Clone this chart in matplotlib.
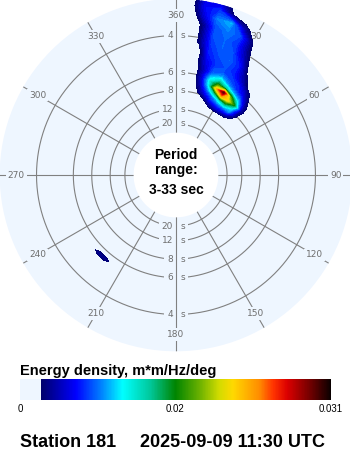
import numpy as np
import matplotlib
matplotlib.use("Agg")
import matplotlib.pyplot as plt
from matplotlib.colors import LinearSegmentedColormap, Normalize
from matplotlib.cm import ScalarMappable

plt.rcParams['font.family'] = ['Liberation Sans', 'DejaVu Sans']

# ============================================================
# DATA
# ============================================================

station = 'Station 181'
stamp = '2025-09-09 11:30 UTC'

period_min = 3
period_max = 33

e_max = 0.031
e_min_shown = 0.0021

cbar_ticks = [0, 0.0155, 0.031]
cbar_labels = ['0', '0.02', '0.031']

ring_periods = [4, 6, 8, 12, 20]

spoke_dirs = [0, 30, 60, 90, 120, 150, 180, 210, 240, 270, 300, 330]
spoke_labels = ['360', '30', '60', '90', '120', '150',
                '180', '210', '240', '270', '300', '330']

# main swell / sea system (direction in deg, frequency in Hz)
theta_main = [0, 5, 10, 15, 20, 25, 30, 35, 40, 45, 50, 55]
freq_main = [0.09, 0.10, 0.11, 0.12, 0.13, 0.14, 0.15, 0.16, 0.17, 0.18,
             0.19, 0.20, 0.22, 0.24, 0.26, 0.28, 0.30, 0.32, 0.34]
energy_main = [
    [0, 0, 0, 0, 0, 0, 0, 0, 0, 0, 0, 0],
    [0, 0, 0, 0, 0, 0.0008, 0.0012, 0.0012, 0.0008, 0, 0, 0],
    [0, 0, 0, 0, 0.0008, 0.0032, 0.0045, 0.0045, 0.0035, 0.0012, 0, 0],
    [0, 0, 0, 0.0008, 0.0028, 0.0060, 0.0075, 0.0080, 0.0080, 0.0025, 0, 0],
    [0, 0, 0, 0.0025, 0.0055, 0.0080, 0.0115, 0.0140, 0.0100, 0.0030, 0, 0],
    [0, 0, 0, 0.0032, 0.0075, 0.0135, 0.0230, 0.0210, 0.0150, 0.0040, 0, 0],
    [0, 0, 0.0005, 0.0040, 0.0100, 0.0220, 0.0295, 0.0170, 0.0100, 0.0035, 0, 0],
    [0, 0, 0.0008, 0.0045, 0.0110, 0.0160, 0.0130, 0.0090, 0.0070, 0.0025, 0, 0],
    [0, 0, 0.0008, 0.0045, 0.0095, 0.0115, 0.0085, 0.0065, 0.0050, 0.0015, 0, 0],
    [0, 0, 0.0008, 0.0040, 0.0075, 0.0085, 0.0070, 0.0060, 0.0035, 0.0008, 0, 0],
    [0, 0, 0.0010, 0.0045, 0.0070, 0.0070, 0.0065, 0.0045, 0.0015, 0, 0, 0],
    [0, 0, 0.0012, 0.0050, 0.0065, 0.0070, 0.0060, 0.0035, 0.0008, 0, 0, 0],
    [0, 0, 0.0008, 0.0060, 0.0070, 0.0075, 0.0060, 0.0015, 0, 0, 0, 0],
    [0, 0, 0.0025, 0.0065, 0.0075, 0.0070, 0.0040, 0.0005, 0, 0, 0, 0],
    [0, 0, 0.0025, 0.0070, 0.0075, 0.0065, 0.0028, 0, 0, 0, 0, 0],
    [0, 0, 0.0025, 0.0070, 0.0080, 0.0070, 0.0022, 0, 0, 0, 0, 0],
    [0, 0, 0.0045, 0.0080, 0.0090, 0.0035, 0.0005, 0, 0, 0, 0, 0],
    [0, 0.0008, 0.0055, 0.0065, 0.0018, 0.0005, 0, 0, 0, 0, 0, 0],
    [0, 0.0005, 0.0050, 0.0040, 0.0010, 0, 0, 0, 0, 0, 0, 0],
]

# small south-west patch
theta_sw = [210, 215, 220, 225, 230, 235]
freq_sw = [0.170, 0.183, 0.196]
energy_sw = [
    [0, 0, 0, 0, 0, 0],
    [0, 0.0008, 0.0030, 0.0030, 0.0008, 0],
    [0, 0, 0, 0, 0, 0],
]

# ============================================================
# STYLE
# ============================================================

DISK = '#eef6ff'
GRID = '#808080'
LABEL = '#6e6e6e'

cmap = LinearSegmentedColormap.from_list('wave', [
    (0.000, DISK),
    (0.0679, DISK),
    (0.068, (0.0, 0.0, 0.42)),
    (0.18, (0.0, 0.0, 1.0)),
    (0.26, (0.0, 0.5, 1.0)),
    (0.33, (0.0, 1.0, 1.0)),
    (0.42, (0.0, 0.78, 0.6)),
    (0.50, (0.0, 0.52, 0.0)),
    (0.58, (0.43, 0.7, 0.0)),
    (0.64, (0.82, 0.86, 0.0)),
    (0.685, (1.0, 0.85, 0.0)),
    (0.77, (1.0, 0.55, 0.0)),
    (0.815, (1.0, 0.2, 0.0)),
    (0.86, (0.86, 0.0, 0.0)),
    (0.93, (0.47, 0.0, 0.0)),
    (1.000, (0.04, 0.0, 0.0)),
], N=512)
norm = Normalize(0, e_max)

fmin = 1 / period_max
fmax = 1 / period_min

# ============================================================
# FIGURE
# ============================================================

fig = plt.figure(figsize=(3.5, 4.5), dpi=100)

ax = fig.add_axes([-0.0009, 0.2193, 1.0074, 0.7836], projection='polar')
ax.set_theta_zero_location('N')
ax.set_theta_direction(-1)
ax.set_rorigin(-0.0656)
ax.set_rlim(fmin, fmax)
ax.set_facecolor(DISK)
ax.patch.set_edgecolor('none')
ax.grid(False)
ax.set_xticks([])
ax.set_yticks([])
# polar axes re-enables some spines at draw time, so hide them by colour
for name in ['polar', 'start', 'end', 'inner']:
    ax.spines[name].set_visible(False)
    ax.spines[name].set_edgecolor('none')
    ax.spines[name].set_linewidth(0)

# rings
circ = np.linspace(0, 2 * np.pi, 721)
for p in ring_periods:
    ax.plot(circ, np.full_like(circ, 1 / p), color=GRID, lw=0.8, zorder=1)

# period labels on the N-S spoke
for th in [0, np.pi]:
    for p in ring_periods:
        box = dict(boxstyle='square,pad=0.35', fc=DISK, ec='none')
        ax.annotate(str(p), xy=(th, 1 / p), xytext=(-2, 0),
                    textcoords='offset points', ha='right', va='center',
                    fontsize=6.5, color=LABEL, family='DejaVu Sans',
                    bbox=box, zorder=2)
        ax.annotate('s', xy=(th, 1 / p), xytext=(3, 0),
                    textcoords='offset points', ha='left', va='center',
                    fontsize=6.5, color=LABEL, family='DejaVu Sans',
                    bbox=box, zorder=2)

# spokes
for d, lab in zip(spoke_dirs, spoke_labels):
    th = np.deg2rad(d)
    ax.plot([th, th], [fmin, fmax], color=GRID, lw=0.8, zorder=3)
    ax.text(th, 0.296, lab, ha='center', va='center', fontsize=6.5,
            color=LABEL, family='DejaVu Sans', zorder=4,
            bbox=dict(boxstyle='square,pad=0.2', fc=DISK, ec='none'))

levels = np.linspace(e_min_shown, e_max, 60)

ax.contourf(np.deg2rad(theta_main), freq_main, np.array(energy_main),
            levels=levels, cmap=cmap, norm=norm, zorder=5)
ax.contourf(np.deg2rad(theta_sw), freq_sw, np.array(energy_sw),
            levels=levels, cmap=cmap, norm=norm, zorder=5)

# centre text
fig.text(176 / 350, 1 - 159 / 450, 'Period', ha='center', va='baseline',
         fontsize=10, fontweight='bold')
fig.text(176 / 350, 1 - 174 / 450, 'range:', ha='center', va='baseline',
         fontsize=10, fontweight='bold')
fig.text(176 / 350, 1 - 194 / 450, f'{period_min}-{period_max} sec',
         ha='center', va='baseline', fontsize=10, fontweight='bold')

# ============================================================
# COLORBAR
# ============================================================

cax = fig.add_axes([20 / 350, 50 / 450, 311 / 350, 21 / 450])
cb = fig.colorbar(ScalarMappable(norm=norm, cmap=cmap), cax=cax,
                  orientation='horizontal')
cb.outline.set_visible(False)
cb.set_ticks(cbar_ticks)
cb.set_ticklabels(cbar_labels)
cax.tick_params(length=0, labelsize=7, pad=3)

fig.text(20 / 350, 1 - 375 / 450, 'Energy density, m*m/Hz/deg',
         ha='left', va='baseline', fontsize=10.5, fontweight='bold')

fig.text(20 / 350, 3 / 450, station, ha='left', va='baseline',
         fontsize=13, fontweight='bold')
fig.text(140 / 350, 3 / 450, stamp, ha='left', va='baseline',
         fontsize=13, fontweight='bold')

fig.savefig('out.png', dpi=100)
